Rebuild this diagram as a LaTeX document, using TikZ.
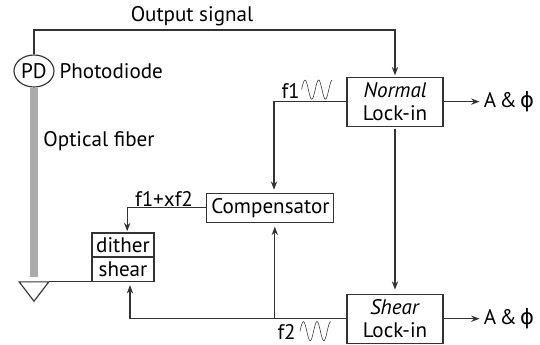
\documentclass[tikz,border=0pt]{standalone}
\usepackage{fontspec}
\setmainfont{PT Sans}
\newfontfamily\phifont{DejaVu Sans}
\usetikzlibrary{shapes.geometric, arrows.meta, positioning, calc}

% One period and a half of the reference signal
\newcommand{\refwave}[1]{
    \draw[wave] (#1) sin ++(.085,.24) cos ++(.085,-.24) sin ++(.085,-.24) cos ++(.085,.24)
        sin ++(.085,.24) cos ++(.085,-.24) sin ++(.085,-.24) cos ++(.085,.24) sin ++(.085,.24);
}

\begin{document}
\begin{tikzpicture}[
    % Define node styles
    box/.style={rectangle, draw=black!80, line width=0.8pt, inner sep=0pt, align=center, font=\fontsize{15}{16}\selectfont},
    lockin/.style={box, minimum width=2.4cm, minimum height=1.225cm},
    stack/.style={box, minimum width=1.55cm, minimum height=0.59cm},
    label/.style={inner sep=0pt, font=\fontsize{15}{16}\selectfont},
    % Define edge styles
    edge/.style={-{Stealth[length=6pt, width=4.5pt]}, line width=0.8pt, draw=black!80},
    plain/.style={line width=0.8pt, draw=black!80},
    wave/.style={line width=0.4pt, draw=black!80},
]
\useasboundingbox (0,0) rectangle (13.5,-8.625);

% Lock-in amplifiers and compensator
\node[lockin] (Normal) at (9.875,-2.54) {\textit{Normal}\\Lock-in};
\node[lockin, below=4.175cm of Normal] (Shear) {\textit{Shear}\\Lock-in};
\node[box, minimum width=3.175cm, minimum height=0.725cm] (Compensator) at (6.76,-5.19) {Compensator};

% Piezo stack
\node[stack] (dither) at (3.075,-6.12) {dither};
\node[stack, below=0cm of dither] (shearpz) {shear};

% Photodiode and fiber
\node[ellipse, draw=black!80, line width=0.8pt, minimum width=1cm, minimum height=0.8cm, inner sep=0pt, font=\fontsize{15}{16}\selectfont] (PD) at (0.85,-1.775) {PD};
\node[rectangle, fill=black!33, minimum width=0.2cm, minimum height=4.725cm, inner sep=0pt, below=0cm of PD] (fiber) {};
\node[label, right=0.12cm of PD] (Photodiode) {Photodiode};
\node[label, anchor=west] (fiberlabel) at (1.08,-3.52) {Optical fiber};

% Tip
\coordinate (tipL) at (shearpz.south west -| 0.48,0);
\coordinate (tipR) at (shearpz.south west -| 1.22,0);
\coordinate (tipB) at (0.85,-7.53);
\draw[plain] (tipL) -- (tipR) -- (tipB) -- cycle;
\draw[plain] (tipR) -- (shearpz.south west);

% Labels
\node[label] (output) at (4.8,-0.41) {Output signal};
\node[label, anchor=east] (fone) at (7.5,-2.28) {f1};
\node[label] (xftwo) at (4.1,-4.97) {f1+xf2};
\node[label, anchor=east] (ftwo) at (7.4,-8.3) {f2};
\node[label, right=1cm of Normal] (ampN) {A\kern.16em\&\kern.16em{\phifont ϕ}};
\node[label, right=1cm of Shear] (ampS) {A\kern.16em\&\kern.16em{\phifont ϕ}};

% Reference signals
\coordinate (waveN) at (7.54,-2.24);
\coordinate (waveS) at (7.5,-8.28);
\refwave{waveN}
\refwave{waveS}

% Signal path
\draw[edge] (PD.north) |- (4,-0.75) -| ([yshift=0.03cm]Normal.north);
\draw[edge] (Normal.east) -- ([xshift=-0.1cm]ampN.west);
\draw[edge] (Shear.east) -- ([xshift=-0.1cm]ampS.west);
\draw[edge, shorten <=0.05cm, shorten >=0.1cm] (Normal.south) -- (Shear.north);
\draw[edge, shorten >=0.07cm] (Normal.west) -| (Compensator.north -| 6.85,0);
\draw[edge, shorten >=0.03cm] (Compensator.west) -| (dither.north -| 3.18,0);
\draw[edge, shorten >=0.08cm] (Shear.west) -| (shearpz.south -| 3.25,0);
\coordinate (branch) at (Shear.west -| 6.87,0);
\draw[edge, shorten >=0.1cm] (branch) -- (Compensator.south -| branch);

\end{tikzpicture}
\end{document}
